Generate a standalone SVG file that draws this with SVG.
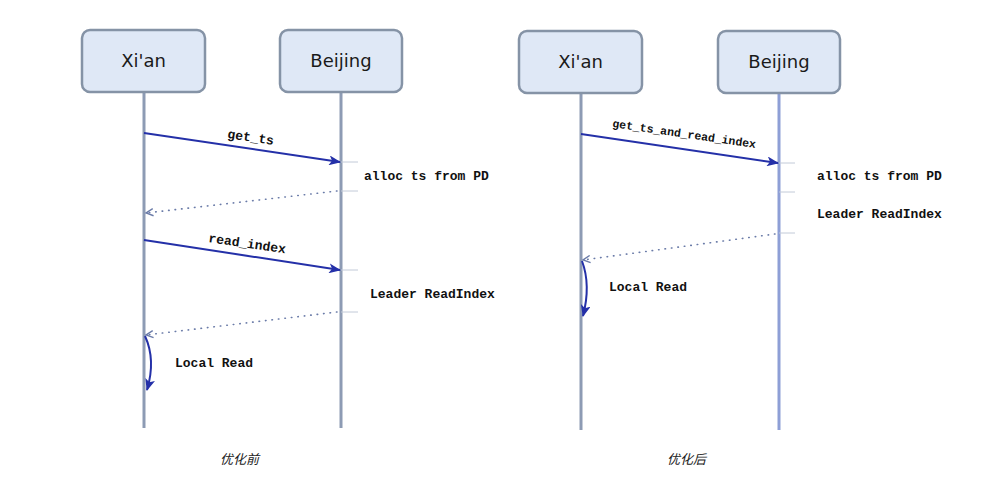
<svg xmlns="http://www.w3.org/2000/svg" width="985" height="500" viewBox="0 0 985 500">
<defs>
<marker id="ah" viewBox="0 0 12 10" refX="11" refY="5" markerWidth="12" markerHeight="10" markerUnits="userSpaceOnUse" orient="auto">
<path d="M0,0 L12,5 L0,10 L3,5 Z" fill="#2430a8"/>
</marker>
<marker id="ahd" viewBox="0 0 10 10" refX="9" refY="5" markerWidth="9" markerHeight="9" markerUnits="userSpaceOnUse" orient="auto">
<path d="M1,1 L9,5 L1,9" fill="none" stroke="#6a7ba8" stroke-width="1.5"/>
</marker>
<style>
.box{fill:#dfe8f6;stroke:#8593a6;stroke-width:2.5}
.name{font-family:"DejaVu Sans",Verdana,sans-serif;font-size:18px;fill:#1a1a1a;text-anchor:middle}
.life{stroke:#8d9bb4;stroke-width:3}
.msg{stroke:#2430a8;stroke-width:2;fill:none}
.ret{stroke:#6a7ba8;stroke-width:1.6;stroke-dasharray:0.5 6;fill:none;stroke-linecap:round}
.tick{stroke:#c2cad8;stroke-width:1}
.lbl{font-family:"Liberation Mono","Courier New",monospace;font-weight:bold;font-size:13px;fill:#111}
.cap{font-family:"Noto Sans CJK SC",sans-serif;font-style:italic;font-size:13px;fill:#222}
</style>
</defs>
<g id="lifelines">
<line class="life" x1="144" y1="92" x2="144" y2="428"/>
<line class="life" x1="341" y1="92" x2="341" y2="428"/>
<line class="life" x1="581" y1="93" x2="581" y2="430"/>
<line class="life" x1="779" y1="93" x2="779" y2="430" style="stroke:#8e9fd6"/>
</g>
<g id="node-xian-1"><rect class="box" x="82" y="30" width="123" height="62" rx="8"/><text class="name" x="143.5" y="67">Xi'an</text></g>
<g id="node-beijing-1"><rect class="box" x="280" y="30" width="122" height="62" rx="8"/><text class="name" x="341" y="67">Beijing</text></g>
<g id="node-xian-2"><rect class="box" x="519" y="31" width="123" height="62" rx="8"/><text class="name" x="580.5" y="68">Xi'an</text></g>
<g id="node-beijing-2"><rect class="box" x="718" y="31" width="122" height="62" rx="8"/><text class="name" x="779" y="68">Beijing</text></g>
<g id="connectors">
<line class="tick" x1="341" y1="162" x2="358" y2="162"/>
<line class="tick" x1="341" y1="191" x2="358" y2="191"/>
<line class="tick" x1="341" y1="270" x2="358" y2="270"/>
<line class="tick" x1="341" y1="312" x2="358" y2="312"/>
<line class="tick" x1="779" y1="163" x2="795" y2="163"/>
<line class="tick" x1="779" y1="192" x2="795" y2="192"/>
<line class="tick" x1="779" y1="233" x2="795" y2="233"/>
<line class="msg" x1="144" y1="133" x2="340" y2="162" marker-end="url(#ah)"/>
<line class="ret" x1="337" y1="191" x2="146" y2="213" marker-end="url(#ahd)"/>
<line class="msg" x1="144" y1="240" x2="340" y2="270" marker-end="url(#ah)"/>
<line class="ret" x1="337" y1="312" x2="146" y2="335" marker-end="url(#ahd)"/>
<path class="msg" d="M145,336 Q156,360 147,390" marker-end="url(#ah)"/>
<line class="msg" x1="581" y1="134" x2="778" y2="163" marker-end="url(#ah)"/>
<line class="ret" x1="775" y1="234" x2="583" y2="260" marker-end="url(#ahd)"/>
<path class="msg" d="M582,261 Q591,285 583,316" marker-end="url(#ah)"/>
</g>
<g id="labels">
<text class="lbl" transform="translate(227,138) rotate(8.3)">get_ts</text>
<text class="lbl" x="364" y="180">alloc ts from PD</text>
<text class="lbl" transform="translate(208,242) rotate(8.3)">read_index</text>
<text class="lbl" x="370" y="298">Leader ReadIndex</text>
<text class="lbl" x="175" y="367">Local Read</text>
<text class="lbl" style="font-size:11.5px" transform="translate(612,127) rotate(8.3)">get_ts_and_read_index</text>
<text class="lbl" x="817" y="180">alloc ts from PD</text>
<text class="lbl" x="817" y="218">Leader ReadIndex</text>
<text class="lbl" x="609" y="291">Local Read</text>
<text class="cap" x="220" y="464">优化前</text>
<text class="cap" x="667" y="464">优化后</text>
</g>
</svg>
